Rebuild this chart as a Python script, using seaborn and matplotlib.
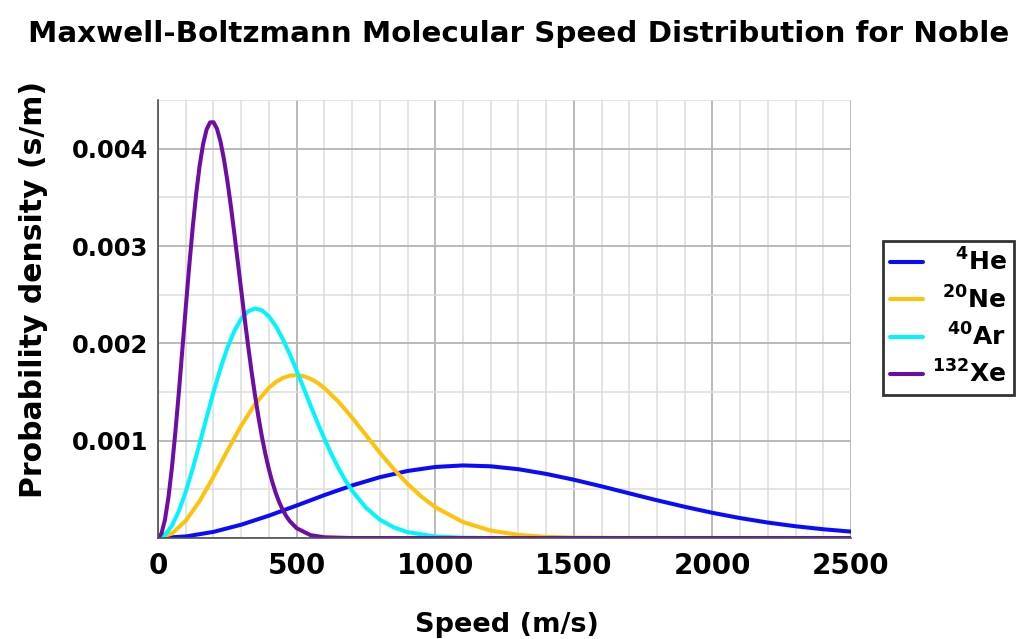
import pandas as pd
import matplotlib
matplotlib.use("Agg")
import matplotlib.pyplot as plt
from matplotlib.ticker import MultipleLocator
import seaborn as sns

# speeds (m/s) and probability densities (s/m)
he_speed = [0, 100, 200, 300, 400, 500, 600, 700, 800, 900, 1000, 1100, 1200,
            1300, 1400, 1500, 1600, 1700, 1800, 1900, 2000, 2100, 2200, 2300,
            2400, 2500]
he_density = [0.0, 0.0000162, 0.0000634, 0.000137, 0.000230, 0.000334, 0.000441,
              0.000540, 0.000625, 0.000689, 0.000730, 0.000746, 0.000737,
              0.000707, 0.000659, 0.000599, 0.000531, 0.000459, 0.000388,
              0.000321, 0.000259, 0.000205, 0.000159, 0.000121, 0.0000902,
              0.0000659]

ne_speed = [0, 50, 100, 150, 200, 250, 300, 350, 400, 425, 450, 475, 500, 525,
            550, 575, 600, 650, 700, 750, 800, 850, 900, 950, 1000, 1100, 1200,
            1300, 1400, 1500, 1700, 2500]
ne_density = [0.0, 0.0000458, 0.000178, 0.000380, 0.000629, 0.000897, 0.001155,
              0.001377, 0.001544, 0.001603, 0.001644, 0.001668, 0.001674,
              0.001663, 0.001636, 0.001595, 0.001541, 0.001403, 0.001237,
              0.001057, 0.000878, 0.000709, 0.000557, 0.000426, 0.000317,
              0.000164, 0.0000765, 0.0000325, 0.0000126, 0.0000045, 0.0000003,
              0.0]

ar_speed = [0, 25, 50, 75, 100, 125, 150, 175, 200, 225, 250, 275, 300, 325,
            350, 375, 400, 425, 450, 475, 500, 525, 550, 575, 600, 625, 650,
            675, 700, 750, 800, 850, 900, 1000, 1100, 1200, 2500]
ar_density = [0.0, 0.0000322, 0.000127, 0.000278, 0.000477, 0.000713, 0.000971,
              0.001238, 0.001499, 0.001741, 0.001953, 0.002126, 0.002253,
              0.002330, 0.002358, 0.002339, 0.002276, 0.002176, 0.002044,
              0.001890, 0.001720, 0.001542, 0.001362, 0.001187, 0.001020,
              0.000864, 0.000723, 0.000596, 0.000486, 0.000311, 0.000189,
              0.000110, 0.0000607, 0.0000161, 0.0000036, 0.0000005, 0.0]

xe_speed = [0, 12.5, 25, 37.5, 50, 62.5, 75, 87.5, 100, 112.5, 125, 137.5, 150,
            162.5, 175, 187.5, 200, 212.5, 225, 237.5, 250, 262.5, 275, 287.5,
            300, 312.5, 325, 337.5, 350, 362.5, 375, 387.5, 400, 412.5, 425,
            437.5, 450, 462.5, 475, 500, 550, 600, 700, 2500]
xe_density = [0.0, 0.0000481, 0.000190, 0.000419, 0.000723, 0.001088, 0.001497,
              0.001931, 0.002370, 0.002795, 0.003189, 0.003536, 0.003825,
              0.004047, 0.004196, 0.004270, 0.004272, 0.004205, 0.004077,
              0.003895, 0.003671, 0.003414, 0.003134, 0.002842, 0.002546,
              0.002254, 0.001973, 0.001707, 0.001462, 0.001237, 0.001036,
              0.000859, 0.000705, 0.000572, 0.000460, 0.000366, 0.000288,
              0.000225, 0.000174, 0.000101, 0.0000300, 0.0000077, 0.0000002,
              0.0]

gases = [r"$^{4}$He", r"$^{20}$Ne", r"$^{40}$Ar", r"$^{132}$Xe"]
colors = ["#0a0aff", "#ffc20a", "#00f5ff", "#6c0ea3"]


def build_frame():
    parts = []
    for gas, speed, dens in zip(gases,
                                [he_speed, ne_speed, ar_speed, xe_speed],
                                [he_density, ne_density, ar_density, xe_density]):
        parts.append(pd.DataFrame({"speed": speed, "density": dens, "gas": gas}))
    return pd.concat(parts, ignore_index=True)


sns.set_style("white")
plt.rcParams.update({
    "font.family": ["DejaVu Sans"],
    "font.weight": "bold",
    "mathtext.default": "bf",
    "text.color": "black",
    "axes.labelcolor": "black",
    "xtick.color": "black",
    "ytick.color": "black",
})

df = build_frame()

fig = plt.figure(figsize=(10.23, 6.39), dpi=100)
ax = fig.add_axes([0.1545, 0.158, 0.6774, 0.6855])

sns.lineplot(data=df, x="speed", y="density", hue="gas", hue_order=gases,
             palette=colors, estimator=None, linewidth=2.9, ax=ax)

ax.set_xlim(0, 2500)
ax.set_ylim(0, 0.0045)
ax.xaxis.set_major_locator(MultipleLocator(500))
ax.xaxis.set_minor_locator(MultipleLocator(100))
ax.yaxis.set_minor_locator(MultipleLocator(0.0005))
ax.set_yticks([0, 0.001, 0.002, 0.003, 0.004])
ax.set_yticklabels(["", "0.001", "0.002", "0.003", "0.004"])

ax.grid(which="major", color="#b4b4b4", linewidth=1.3)
ax.grid(which="minor", color="#dcdcdc", linewidth=1.1)
ax.set_axisbelow(True)
for side in ["top", "right"]:
    ax.spines[side].set_visible(False)
for side in ["left", "bottom"]:
    ax.spines[side].set_color("#505050")
    ax.spines[side].set_linewidth(1.2)

ax.tick_params(axis="x", which="major", direction="out", length=6, width=1.2,
               color="#505050", labelsize=20, pad=4)
ax.tick_params(axis="y", which="major", direction="inout", length=10, width=1.2,
               color="#505050", labelsize=17.5, pad=2)
ax.tick_params(axis="both", which="minor", length=0)
for lab in ax.get_xticklabels() + ax.get_yticklabels():
    lab.set_fontweight("bold")

ax.set_xlabel("Speed (m/s)", fontsize=19.5, fontweight="bold")
ax.set_ylabel("Probability density (s/m)", fontsize=21.5, fontweight="bold")
ax.xaxis.set_label_coords(0.504, -0.169)
ax.yaxis.set_label_coords(-0.159, 0.5675)

fig.text(0.507, 0.947, "Maxwell-Boltzmann Molecular Speed Distribution for Noble",
         ha="center", va="center", fontsize=21.2, fontweight="bold")

leg = ax.legend(loc="center left", bbox_to_anchor=(0.863, 0.502),
                bbox_transform=fig.transFigure, borderaxespad=0, frameon=True,
                fancybox=False, edgecolor="black",
                prop={"size": 18, "weight": "bold"}, handlelength=1.3,
                labelspacing=0.4, borderpad=0.3, handletextpad=0.4)
leg.get_frame().set_linewidth(2.0)
for line in leg.get_lines():
    line.set_linewidth(2.9)

# right-align the labels while keeping the handles on the left
for col in leg._legend_handle_box.get_children():
    for item in col.get_children():
        item.mode = "expand"
        item.width = 116

fig.savefig("out.png", dpi=100)
